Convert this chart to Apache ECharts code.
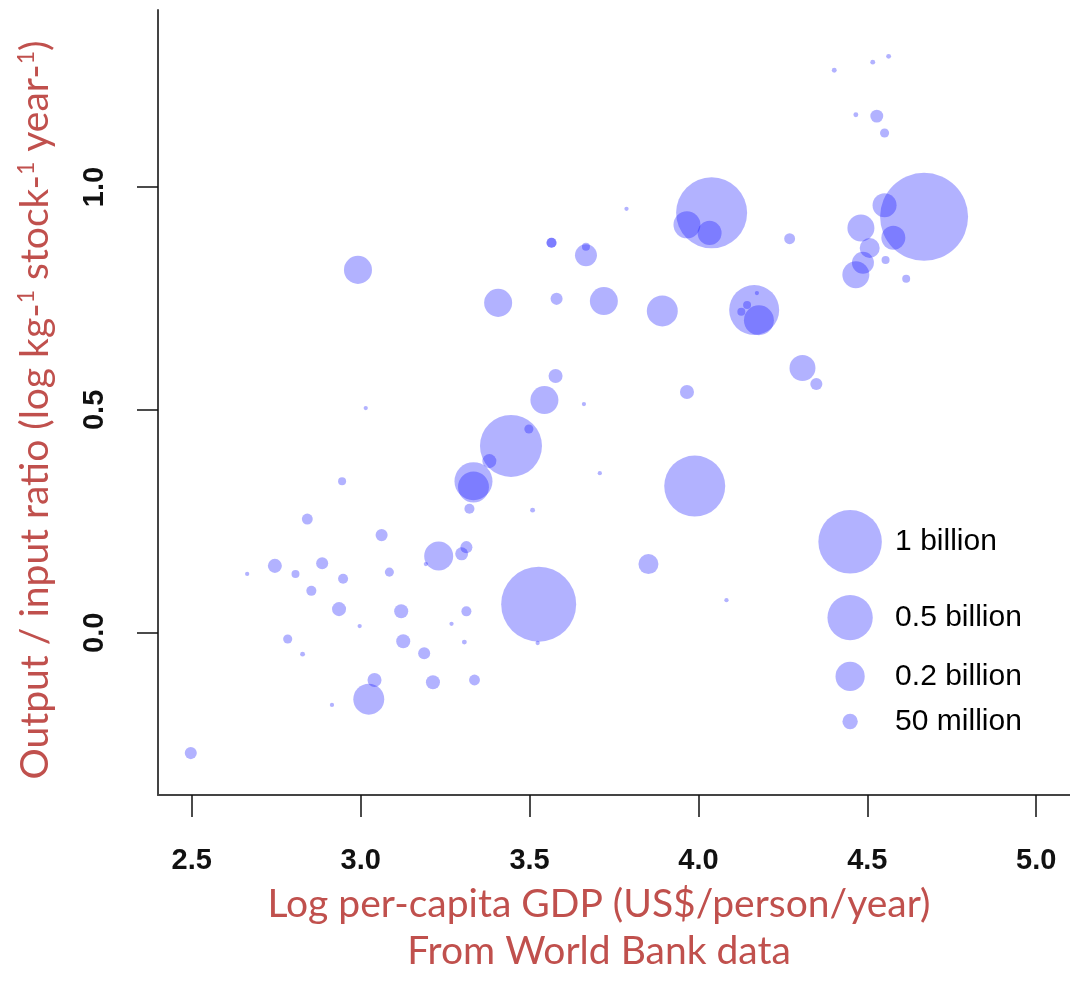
<!DOCTYPE html>
<html>
<head>
<meta charset="utf-8">
<script src="https://cdn.jsdelivr.net/npm/echarts@6/dist/echarts.min.js"></script>
<style>
  html, body { margin: 0; padding: 0; background: #fff; }
  #chart { width: 1070px; height: 996px; }
</style>
</head>
<body>
<div id="chart"></div>
<script>
// one entry per country: log GDP per capita, log output/input ratio, population (millions)
const gdpLog = [
  2.992, 3.565, 3.565, 3.667, 3.667, 3.407, 3.580, 3.720, 3.015, 3.577,
  3.544, 3.661, 4.402, 4.516, 4.563, 4.466, 4.528, 4.551, 3.787, 4.039,
  3.966, 4.033, 4.270, 4.668, 4.551, 4.577, 4.481, 4.507, 4.487, 4.466,
  4.554, 4.615, 3.893, 4.165, 4.179, 4.144, 4.127, 4.173, 4.308, 4.349,
  3.966, 3.445, 3.498, 3.381, 3.334, 3.334, 3.322, 2.945, 2.842, 3.062,
  3.509, 3.231, 3.313, 3.299, 3.193, 2.746, 2.664, 2.807, 2.886, 3.085,
  2.948, 2.854, 2.936, 3.120, 3.313, 3.527, 3.524, 3.269, 2.997, 2.784,
  2.828, 3.126, 3.307, 3.188, 3.041, 3.024, 3.214, 3.337, 2.915, 2.497,
  3.708, 3.989, 3.852, 4.083
]
const ratioLog = [
  0.814, 0.875, 0.875, 0.847, 0.866, 0.740, 0.749, 0.744, 0.504, 0.576,
  0.522, 0.513, 1.262, 1.280, 1.293, 1.162, 1.159, 1.121, 0.951, 0.942,
  0.915, 0.897, 0.884, 0.933, 0.959, 0.886, 0.908, 0.863, 0.830, 0.803,
  0.836, 0.794, 0.722, 0.724, 0.701, 0.735, 0.720, 0.762, 0.594, 0.558,
  0.540, 0.419, 0.457, 0.385, 0.340, 0.327, 0.278, 0.340, 0.255, 0.219,
  0.275, 0.172, 0.192, 0.177, 0.154, 0.150, 0.132, 0.132, 0.156, 0.136,
  0.121, 0.094, 0.053, 0.048, 0.048, 0.064, -0.023, 0.020, 0.015, -0.014,
  -0.048, -0.019, -0.021, -0.046, -0.106, -0.149, -0.111, -0.106, -0.162, -0.270,
  0.358, 0.329, 0.154, 0.073
]
const popMillions = [
  183, 19, 19, 109, 11, 183, 29, 183, 2, 41,
  183, 2, 3, 3, 3, 3, 34, 15, 2, 1257,
  169, 132, 23, 1947, 132, 132, 169, 89, 109, 169,
  11, 11, 226, 612, 211, 11, 11, 2, 156, 29,
  41, 952, 15, 41, 347, 226, 19, 11, 23, 29,
  3, 197, 29, 34, 2, 41, 2, 11, 29, 15,
  19, 19, 41, 41, 19, 1405, 2, 2, 2, 15,
  3, 41, 3, 29, 41, 226, 41, 23, 2, 29,
  2, 921, 89, 2
]
const xTicks = [2.5, 3.0, 3.5, 4.0, 4.5, 5.0]
const yTicks = [0.0, 0.5, 1.0]
const legendPops = [1000, 500, 200, 50]
const legendLabels = ['1 billion', '0.5 billion', '0.2 billion', '50 million']

const red = '#c0504d'
const fill = 'rgba(0, 0, 255, 0.3)'
const size = (p) => 1.5 + 62 * Math.sqrt(p / 1000)

const points = gdpLog.map((x, i) => [x, ratioLog[i], popMillions[i]])

// legend sits inside the plot, lower right
const legendX = 4.449
const legendY = [0.204, 0.034, -0.098, -0.199]
const legendData = legendPops.map((p, i) => ({
  value: [legendX, legendY[i], p],
  label: {distance: 45 - size(p) / 2}
}))

const chart = echarts.init(document.getElementById('chart'))
chart.setOption({
  animation: false,
  grid: {left: 158, top: 10, width: 923, height: 785},
  xAxis: {
    type: 'value',
    min: 2.4,
    max: 5.1,
    splitLine: {show: false},
    axisLine: {onZero: false, lineStyle: {color: '#444', width: 2}},
    axisTick: {customValues: xTicks, length: 22, lineStyle: {color: '#111', width: 1.5}},
    axisLabel: {
      customValues: xTicks,
      margin: 51,
      formatter: (v) => v.toFixed(1),
      fontFamily: 'Liberation Sans',
      fontWeight: 'bold',
      fontSize: 29,
      color: '#111'
    }
  },
  yAxis: {
    type: 'value',
    min: -0.364,
    max: 1.397,
    splitLine: {show: false},
    axisLine: {onZero: false, lineStyle: {color: '#444', width: 2}},
    axisTick: {customValues: yTicks, length: 21, lineStyle: {color: '#111', width: 1.5}},
    axisLabel: {
      customValues: yTicks,
      rotate: 90,
      margin: 49,
      formatter: (v) => v.toFixed(1),
      fontFamily: 'Liberation Sans',
      fontWeight: 'bold',
      fontSize: 29,
      color: '#111'
    }
  },
  series: [
    {
      type: 'scatter',
      data: points,
      symbolSize: (v) => size(v[2]),
      itemStyle: {color: fill, opacity: 1},
      emphasis: {disabled: true},
      silent: true
    },
    {
      type: 'scatter',
      data: legendData,
      symbolSize: (v) => size(v[2]),
      itemStyle: {color: fill, opacity: 1},
      label: {
        show: true,
        position: 'right',
        formatter: (p) => legendLabels[p.dataIndex],
        fontFamily: 'Liberation Sans',
        fontSize: 30,
        color: '#000',
        textBorderWidth: 0
      },
      emphasis: {disabled: true},
      silent: true
    }
  ],
  graphic: [
    {
      type: 'text',
      x: 599,
      y: 928,
      style: {
        text: 'Log per-capita GDP (US$/person/year)\nFrom World Bank data',
        fontFamily: 'Lato',
        fontSize: 39,
        lineHeight: 47,
        fill: red,
        align: 'center',
        verticalAlign: 'middle'
      }
    },
    {
      type: 'text',
      x: 35,
      y: 410,
      rotation: Math.PI / 2,
      style: {
        text: 'Output / input ratio (log kg-{s|1} stock-{s|1} year-{s|1})',
        fontFamily: 'Lato',
        fontSize: 39,
        fill: red,
        align: 'center',
        verticalAlign: 'middle',
        rich: {
          s: {fontFamily: 'Lato', fontSize: 23, fill: red, verticalAlign: 'top', padding: [0, 0, 14, 0]}
        }
      }
    }
  ]
})
</script>
</body>
</html>
